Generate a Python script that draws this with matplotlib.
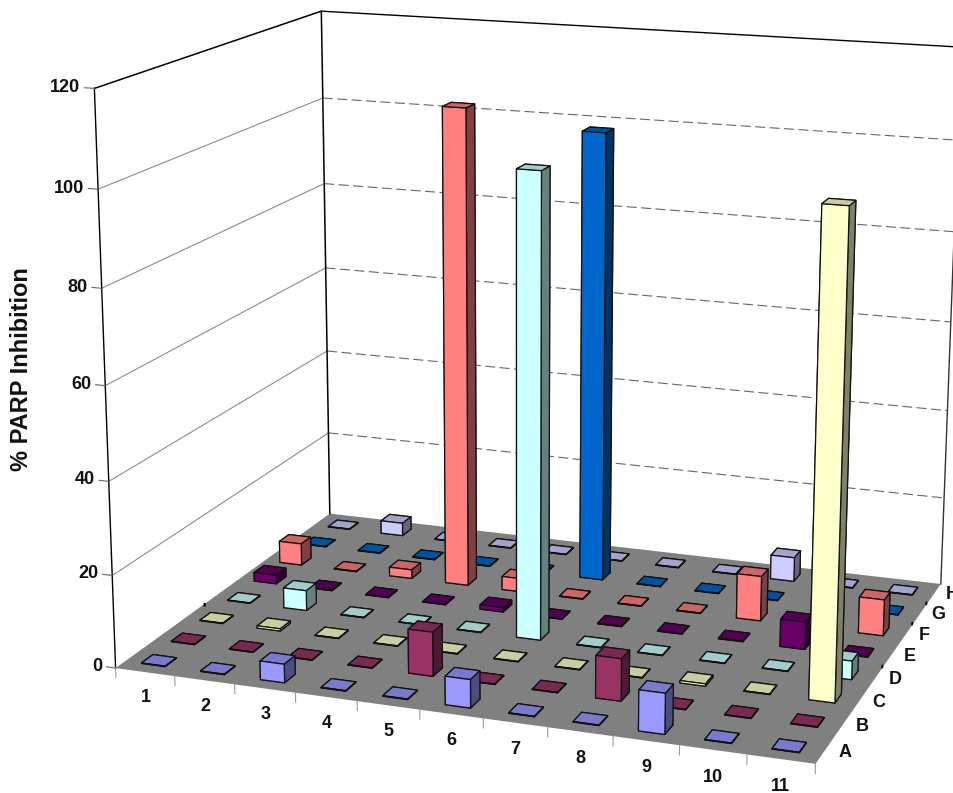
import numpy as np
import matplotlib
matplotlib.use('Agg')
import matplotlib.pyplot as plt
from matplotlib.colors import to_rgb
from mpl_toolkits.mplot3d import proj3d
from mpl_toolkits.mplot3d.art3d import Poly3DCollection

plt.rcParams['font.family'] = ['Liberation Sans', 'DejaVu Sans']

rows = ['A', 'B', 'C', 'D', 'E', 'F', 'G', 'H']
cols = ['1', '2', '3', '4', '5', '6', '7', '8', '9', '10', '11']
z_ticks = [0, 20, 40, 60, 80, 100, 120]
row_colors = ['#9999FF', '#993366', '#FFFFCC', '#CCFFFF', '#660066', '#FF8080', '#0066CC', '#CCCCFF']

row_a = [0.1, 0.1, 4, 0.1, 0.1, 6, 0.1, 0.1, 8.5, 0.1, 0.1]
row_b = [0.1, 0.1, 0.1, 0.1, 9.5, 0.1, 0.1, 9, 0.1, 0.1, 0.1]
row_c = [0.1, 0.5, 0.1, 0.1, 0.1, 0.1, 0.1, 0.1, 0.5, 0.1, 101]
row_d = [0.1, 4.5, 0.1, 0.1, 0.1, 100.5, 0.1, 0.1, 0.1, 0.1, 4]
row_e = [2, 0.1, 0.1, 0.1, 1, 0.1, 0.1, 0.1, 0.1, 6, 0.1]
row_f = [5, 0.1, 2, 107, 3, 0.1, 0.1, 0.1, 10, 0.1, 8]
row_g = [0.1, 0.1, 0.1, 0.1, 0.1, 101, 0.1, 0.1, 0.1, 0.1, 0.1]
row_h = [0.1, 3, 0.1, 0.1, 0.1, 0.1, 0.1, 0.1, 5.5, 0.1, 0.1]
values = [row_a, row_b, row_c, row_d, row_e, row_f, row_g, row_h]

fig = plt.figure(figsize=(9.54, 7.93), dpi=100)
# view fitted to the corners of the reference floor and walls
ax = fig.add_axes([20.2 / 954, 1 - 877.7 / 793, 1022.8 / 954, 1022.8 / 793],
                  projection='3d', computed_zorder=False)
ax.view_init(elev=14.869, azim=-70.379, roll=-0.137)
ax.set_proj_type('persp', focal_length=0.544)
ax.set_box_aspect((1.230, 0.910, 1))
ax.set_xlim(0, 11)
ax.set_ylim(0, 8)
ax.set_zlim(0, 120)


def label(x, y, z, s, ha='center'):
    u, v, _ = proj3d.proj_transform(x, y, z, ax.get_proj())
    ax.text2D(u, v, s, transform=ax.transData, ha=ha, va='center', fontsize=13,
              fontweight='bold', color='#111111')


floor = [[(0, 0, 0), (11, 0, 0), (11, 8, 0), (0, 8, 0)]]
ax.add_collection3d(Poly3DCollection(floor, facecolor='#808080', edgecolor='none', zorder=1))

for z in z_ticks[1:-1]:
    ax.plot([0, 0], [0, 8], [z, z], color='#8c8c8c', lw=0.8, zorder=2)
    ax.plot([0, 11], [8, 8], [z, z], color='#666666', lw=0.8, ls=(0, (9, 4)), zorder=2)
ax.plot([0, 0, 0], [0, 8, 8], [120, 120, 0], color='black', lw=1.1, zorder=2)
ax.plot([0, 0], [0, 0], [0, 120], color='black', lw=1, zorder=2)
ax.plot([0, 11], [8, 8], [120, 120], color='black', lw=1, zorder=2)
ax.plot([11, 11], [8, 8], [0, 120], color='#333333', lw=1, zorder=2)

# tick marks and labels
for z in z_ticks:
    ax.plot([-0.16, 0], [0, 0], [z, z], color='#666666', lw=0.8, zorder=3)
    label(-0.23, 0, z, str(z), ha='right')
for j in range(12):
    ax.plot([j, j], [0, 0], [0, -2], color='#999999', lw=0.8, zorder=3)
for j, c in enumerate(cols):
    label(j + 0.5, 0, -5.6, c)
for i, r in enumerate(rows):
    label(11.3, i + 0.5, 0.3, r)
# only a few of the row ticks show up, as small dark stubs on the floor edge
for i in [4, 6, 7]:
    ax.plot([10.97, 11], [i, i], [0, 0], color='black', lw=2.5, solid_capstyle='butt', zorder=3)
ax.plot([0, 0.04], [3, 3], [0, 0], color='black', lw=2.5, solid_capstyle='butt', zorder=3)

w = 0.40
d = 0.38
zo = 10
for i in range(7, -1, -1):
    rgb = np.array(to_rgb(row_colors[i]))
    faces = [rgb * 0.8, rgb * 0.8, rgb, rgb * 0.5, rgb * 0.5, rgb * 0.5]
    for j in range(11):
        ax.bar3d(j + 0.28, i + (1 - d) / 2, 0, w, d, values[i][j], color=faces,
                 edgecolor='#111111', linewidth=0.9, shade=False, zorder=zo)
        zo += 1

ax.set_xlim(0, 11)
ax.set_ylim(0, 8)
ax.set_zlim(0, 120)
ax.set_axis_off()

fig.text(22 / 954, 1 - 369 / 793, '% PARP Inhibition', rotation=90, ha='center', va='center',
         fontsize=17, fontweight='bold', color='#111111')
fig.savefig('out.png', dpi=100)
